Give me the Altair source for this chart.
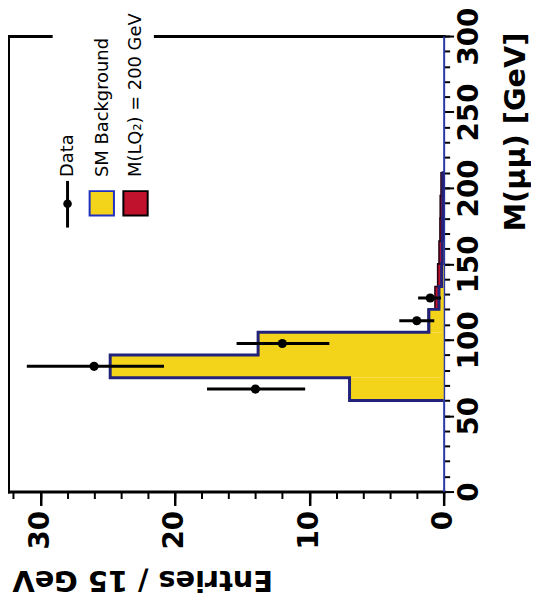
import altair as alt
import pandas as pd

# ---- data ----
bin_lo = [60, 75, 90, 105, 120, 135, 150, 165, 180, 195]
bin_hi = [75, 90, 105, 120, 135, 150, 165, 180, 195, 210]
bkg = [7.0, 24.8, 13.8, 1.1, 0.35, 0.15, 0.1, 0.08, 0.06, 0.05]
sig = [0.0, 0.0, 0.0, 0.05, 0.3, 0.3, 0.25, 0.2, 0.2, 0.15]

data_m = [67.5, 82.5, 97.5, 112.5, 127.5]
data_n = [14, 26, 12, 2, 1]
data_lo = [10.3, 20.8, 8.5, 0.7, 0.2]
data_hi = [17.6, 31.0, 15.4, 3.3, 1.9]

x_ticks = [0, 10, 20, 30]
x_minor = list(range(0, 33, 2))
y_ticks = [0, 50, 100, 150, 200, 250, 300]
y_minor = list(range(0, 301, 10))

legend_labels = ["Data", "SM Background", "M(LQ\u2082) = 200 GeV"]
x_title = "Entries / 15 GeV"
y_title = "M(\u03bc\u03bc) [GeV]"

YELLOW = "#F4D41A"
NAVY = "#22227A"
AXBLUE = "#2A38A8"
RED = "#C0122C"
FONT = "DejaVu Sans"

hist = pd.DataFrame({"lo": bin_lo, "hi": bin_hi, "bkg": bkg, "sig": sig})
hist["base"] = 0.0
hist["top"] = hist["bkg"] + hist["sig"]
sigdf = hist[hist["sig"] > 0]

ox, oy = [0.0], [bin_lo[0]]
for lo, hi, b in zip(bin_lo, bin_hi, bkg):
    ox += [b, b]
    oy += [lo, hi]
ox.append(0.0)
oy.append(bin_hi[-1])
outline = pd.DataFrame({"v": ox, "m": oy, "i": list(range(len(ox)))})

pts = pd.DataFrame({"m": data_m, "n": data_n, "lo": data_lo, "hi": data_hi})

xs = alt.Scale(domain=[0, 32.4], reverse=True, nice=False, zero=False)
ys = alt.Scale(domain=[0, 300], nice=False, zero=False)

x_major = alt.Axis(
    orient="bottom", values=x_ticks, format="d", title=x_title,
    titleFont=FONT, titleFontSize=29, titleFontWeight="bold", titleColor="black",
    titleAngle=180, titleAlign="right", titleBaseline="alphabetic", titleX=4, titleY=80,
    labelFont=FONT, labelFontSize=28, labelFontWeight="bold", labelColor="black",
    labelAngle=270, labelAlign="right", labelBaseline="middle", labelPadding=5,
    labelFlush=False, labelOverlap=False,
    tickSize=14, tickWidth=2.5, tickColor="black",
    domainColor="black", domainWidth=3, domainCap="square", grid=False)
y_major = alt.Axis(
    orient="right", values=y_ticks, format="d", title=y_title,
    titleFont=FONT, titleFontSize=29, titleFontWeight="bold", titleColor="black",
    titleAngle=270, titleAlign="right", titleBaseline="alphabetic", titleX=81, titleY=-4,
    labelFont=FONT, labelFontSize=28, labelFontWeight="bold", labelColor="black",
    labelAngle=270, labelAlign="center", labelBaseline="top", labelPadding=2,
    labelFlush=False, labelOverlap=False,
    tickSize=10, tickWidth=2, tickColor="black",
    domainColor=AXBLUE, domainWidth=2, grid=False)

bg = alt.Chart(hist).mark_rect(color=YELLOW, strokeWidth=0).encode(
    x=alt.X("base:Q", scale=xs, axis=x_major),
    x2="bkg:Q",
    y=alt.Y("lo:Q", scale=ys, axis=y_major),
    y2="hi:Q",
)

minor = alt.Chart(hist).mark_point(opacity=0).encode(
    x=alt.X("base:Q", scale=xs, axis=alt.Axis(
        orient="bottom", values=x_minor, labels=False, domain=False, title=None,
        tickSize=7, tickWidth=2, tickColor="black", grid=False)),
    y=alt.Y("lo:Q", scale=ys, axis=alt.Axis(
        orient="right", values=y_minor, labels=False, domain=False, title=None,
        tickSize=6, tickWidth=2, tickColor="black", grid=False)),
)

frame = alt.Chart(hist).mark_point(opacity=0).encode(
    x=alt.X("base:Q", scale=xs, axis=alt.Axis(
        orient="top", labels=False, ticks=False, title=None, grid=False,
        domainColor="black", domainWidth=3, domainCap="square")),
    y=alt.Y("lo:Q", scale=ys, axis=alt.Axis(
        orient="left", labels=False, ticks=False, title=None, grid=False,
        domainColor="black", domainWidth=3, domainCap="square")),
)

sigrect = alt.Chart(sigdf).mark_rect(color=RED, stroke="#200010", strokeWidth=1.5).encode(
    x=alt.X("bkg:Q", scale=xs, axis=None),
    x2="top:Q",
    y=alt.Y("lo:Q", scale=ys, axis=None),
    y2="hi:Q",
)

line = alt.Chart(outline).mark_line(color=NAVY, strokeWidth=3, strokeJoin="miter").encode(
    x=alt.X("v:Q", scale=xs, axis=None),
    y=alt.Y("m:Q", scale=ys, axis=None),
    order="i:Q",
)

err = alt.Chart(pts).mark_rule(color="black", strokeWidth=3).encode(
    x=alt.X("lo:Q", scale=xs, axis=None),
    x2="hi:Q",
    y=alt.Y("m:Q", scale=ys, axis=None),
)

dots = alt.Chart(pts).mark_circle(color="black", size=85, opacity=1).encode(
    x=alt.X("n:Q", scale=xs, axis=None),
    y=alt.Y("m:Q", scale=ys, axis=None),
)

one = pd.DataFrame({"a": [0]})
leg_box = alt.Chart(one).mark_rect(color="white").encode(
    x=alt.value(45), x2=alt.value(147), y=alt.value(-26), y2=alt.value(201))
leg_line = alt.Chart(one).mark_rule(color="black", strokeWidth=3).encode(
    x=alt.value(60), y=alt.value(146), y2=alt.value(193))
leg_dot = alt.Chart(one).mark_circle(color="black", size=75, opacity=1).encode(
    x=alt.value(60), y=alt.value(169))
leg_y = alt.Chart(one).mark_square(fill=YELLOW, stroke="#2030C0", strokeWidth=2, size=600, opacity=1).encode(
    x=alt.value(94.5), y=alt.value(168.5))
leg_r = alt.Chart(one).mark_square(fill=RED, stroke="black", strokeWidth=2, size=600, opacity=1).encode(
    x=alt.value(128.5), y=alt.value(168.5))

leg_texts = []
for lab, px in zip(legend_labels, [66, 101, 134]):
    leg_texts.append(
        alt.Chart(one).mark_text(angle=270, align="left", baseline="alphabetic",
                                 font=FONT, fontSize=18, color="black").encode(
            x=alt.value(px), y=alt.value(142), text=alt.value(lab)))

chart = alt.layer(
    frame, minor, bg, sigrect, line, leg_box, leg_line, leg_dot, leg_y, leg_r,
    *leg_texts, err, dots
).resolve_axis(x="independent", y="independent").properties(
    width=439, height=459,
    autosize=alt.AutoSizeParams(type="none"),
    padding={"left": 0, "top": 26, "right": 88, "bottom": 109},
).configure_view(stroke=None).configure(background="white")

chart.save("out.html", embed_options={"renderer": "svg", "actions": False})
